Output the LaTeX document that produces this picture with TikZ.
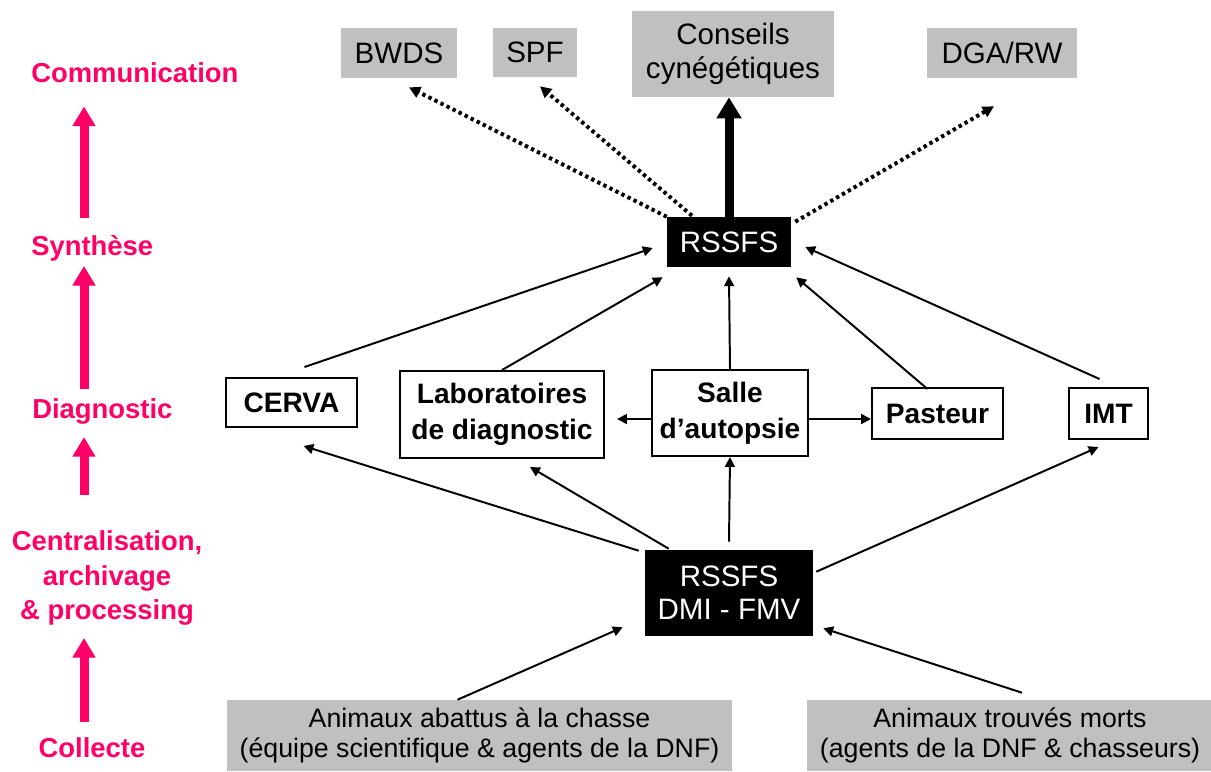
\documentclass[tikz,border=0pt]{standalone}
\usepackage{fontspec}
\setmainfont{Liberation Sans}
\usetikzlibrary{arrows.meta}
\definecolor{stageC}{HTML}{FF0066}
\definecolor{greyF}{HTML}{C0C0C0}
\tikzset{
  box/.style={draw, line width=1.4pt, fill=white, align=center, inner sep=0pt,
              font=\fontsize{20}{25.5}\selectfont\bfseries},
  pub/.style={fill=greyF, align=center, inner sep=0pt, font=\fontsize{21}{24}\selectfont},
  hub/.style={fill=black, text=white, align=center, inner sep=0pt, font=\fontsize{21}{23.5}\selectfont},
  src/.style={fill=greyF, align=center, inner sep=0pt, font=\fontsize{19}{21.3}\selectfont},
  stage/.style={text=stageC, align=center, inner sep=0pt, font=\fontsize{19.5}{24.8}\selectfont\bfseries},
  arr/.style={-{Triangle[length=7pt,width=7pt]}, line width=1.4pt},
  dots/.style={-{Triangle[length=8pt,width=8pt]}, line width=2.8pt, dash pattern=on 2.4pt off 2.4pt},
  big/.style={-{Triangle[length=15pt,width=17pt]}, line width=6.4pt},
  up/.style={draw=stageC, fill=stageC, -{Triangle[length=14pt,width=15.6pt]}, line width=6.4pt},
}

\begin{document}
\begin{tikzpicture}[x=0.025cm, y=-0.025cm]
\useasboundingbox (0,0) rectangle (1211,771);
% stages
\node[stage, anchor=base west] (com) at (31,82) {Communication};
\node[stage, anchor=base west] (syn) at (31,255) {Synthèse};
\node[stage, anchor=base west] (dia) at (32,418) {Diagnostic};
\node[stage] (cen) at (107,578) {Centralisation,\\archivage\\\& processing};
\node[stage, anchor=base] (col) at (92,757) {Collecte};
\coordinate (axis) at (84,0);
\draw[up, shorten <=12pt, shorten >=17pt] (syn.north -| axis) -- (com.south -| axis);
\draw[up, shorten <=6.4pt, shorten >=3.5pt] (dia.north -| axis) -- (syn.south -| axis);
\draw[up, shorten <=24.8pt, shorten >=9.2pt] (cen.north -| axis) -- (dia.south -| axis);
\draw[up, shorten <=10.6pt, shorten >=8.5pt] (col.north -| axis) -- (cen.south -| axis);
% communication
\node[pub, minimum width=2.9cm, minimum height=1.25cm] (bwds) at (399,53) {BWDS};
\node[pub, minimum width=2.1cm, minimum height=1.225cm] (spf) at (535,52.5) {SPF};
\node[pub, minimum width=5.05cm, minimum height=2.15cm] (cons) at (733,54) {Conseils\\cynégétiques};
\node[pub, minimum width=3.75cm, minimum height=1.25cm] (dga) at (1002,53) {DGA/RW};
% synthese
\node[hub, minimum width=3.1cm, minimum height=1.25cm] (synth) at (729,242) {RSSFS};
% diagnostic
\node[box, minimum width=3.275cm, minimum height=1.225cm] (cerva) at (291.5,402.5) {CERVA};
\node[box, minimum width=5.1cm, minimum height=2.175cm] (labo) at (502,414.5) {Laboratoires\\de diagnostic};
\node[box, minimum width=3.9cm, minimum height=2.15cm] (salle) at (730,413) {Salle\\d’autopsie};
\node[box, minimum width=3.275cm, minimum height=1.275cm] (pasteur) at (937.5,413.5) {Pasteur};
\node[box, minimum width=1.975cm, minimum height=1.275cm] (imt) at (1108.5,413.5) {IMT};
% centralisation
\node[hub, minimum width=4.2cm, minimum height=2.15cm] (dmi) at (729,593) {RSSFS\\DMI - FMV};
% collecte
\node[src, minimum width=12.625cm, minimum height=1.775cm] (chasse) at (479.5,735.5)
  {Animaux abattus à la chasse\\(équipe scientifique \& agents de la DNF)};
\node[src, minimum width=10.15cm, minimum height=1.775cm] (morts) at (1010,735.5)
  {Animaux trouvés morts\\(agents de la DNF \& chasseurs)};
% arrows
\draw[dots] (synth.north west) -- ([shift={(10,9)}]bwds.south);
\draw[dots] ([shift={(-37,-1)}]synth.north) -- ([shift={(5,9)}]spf.south);
\draw[dots] ([shift={(4,5)}]synth.north east) -- ([shift={(-8,28)}]dga.south);
\draw[big] (synth.north) -- (synth.north |- cons.south);
\draw[arr] ([shift={(13,-10)}]cerva.north) -- ([shift={(-14,6)}]synth.west);
\draw[arr] (labo.north) -- ([shift={(-4,10)}]synth.south west);
\draw[arr] (salle.north) -- ([shift={(0,9)}]synth.south);
\draw[arr] ([shift={(-10,2)}]pasteur.north) -- ([shift={(5,10)}]synth.south east);
\draw[arr] ([shift={(-9,-8)}]imt.north) -- ([shift={(14,5)}]synth.east);
\draw[arr] ([shift={(0,6)}]salle.west) -- ([shift={(12,4.5)}]labo.east);
\draw[arr] ([shift={(0,6)}]salle.east) -- ([shift={(0,5.5)}]pasteur.west);
\draw[arr] ([shift={(-6,1)}]dmi.north west) -- ([shift={(12,18)}]cerva.south);
\draw[arr] ([shift={(24,-1)}]dmi.north west) -- ([shift={(28,8)}]labo.south);
\draw[arr] ([shift={(0,-8)}]dmi.north) -- (salle.south);
\draw[arr] ([shift={(3,22)}]dmi.north east) -- ([shift={(-10,7)}]imt.south);
\draw[arr] ([shift={(-22,0)}]chasse.north) -- ([shift={(-22,-9)}]dmi.south west);
\draw[arr] ([shift={(12,-7)}]morts.north) -- ([shift={(10,-8)}]dmi.south east);
\end{tikzpicture}
\end{document}
